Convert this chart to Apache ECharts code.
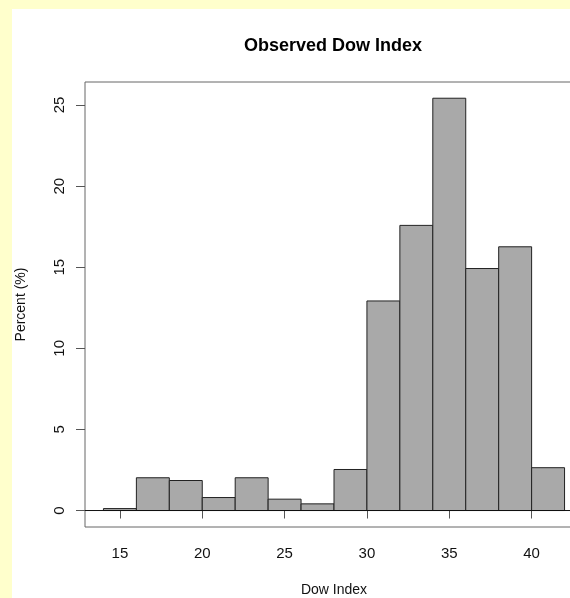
<!DOCTYPE html>
<html>
<head>
<meta charset="utf-8">
<script src="https://cdn.jsdelivr.net/npm/echarts@6/dist/echarts.min.js"></script>
<style>
html, body { margin: 0; padding: 0; background: #FFFFCC; }
#chart { width: 570px; height: 598px; }
</style>
</head>
<body>
<div id="chart"></div>
<script>
// Histogram bins (Dow Index) and heights (Percent)
const binStarts = [14, 16, 18, 20, 22, 24, 26, 28, 30, 32, 34, 36, 38, 40];
const binEnds   = [16, 18, 20, 22, 24, 26, 28, 30, 32, 34, 36, 38, 40, 42];
const percents  = [0.12, 2.02, 1.85, 0.80, 2.02, 0.70, 0.41, 2.53, 12.92, 17.58, 25.42, 14.92, 16.26, 2.64];
const xTicks = [15, 20, 25, 30, 35, 40];
const yTicks = [0, 5, 10, 15, 20, 25];
const xRange = [12.88, 43.12];
const yRange = [-1.016, 26.42];

const font = '"Liberation Sans", Arial, sans-serif';
const histData = binStarts.map((s, i) => [s, binEnds[i], percents[i]]);

const chart = echarts.init(document.getElementById('chart'), null, { renderer: 'canvas' });
chart.setOption({
  backgroundColor: '#FFFFCC',
  animation: false,
  graphic: [{
    type: 'rect', z: -100, silent: true,
    shape: { x: 12, y: 9, width: 600, height: 600 },
    style: { fill: '#FFFFFF' }
  }],
  title: {
    text: 'Observed Dow Index',
    left: 333, top: 37, textAlign: 'center', padding: 0,
    textStyle: { fontFamily: font, fontSize: 18, fontWeight: 'bold', color: '#000' }
  },
  grid: {
    left: 85, top: 82, width: 498, height: 445,
    outerBoundsMode: 'none', containLabel: false,
    show: true, borderColor: '#666', borderWidth: 1, backgroundColor: 'transparent'
  },
  xAxis: {
    type: 'value', min: xRange[0], max: xRange[1],
    name: 'Dow Index', nameLocation: 'middle', nameGap: 56,
    nameTextStyle: { fontFamily: font, fontSize: 14, color: '#111' },
    axisLine: { show: false },
    splitLine: { show: false },
    axisTick: { show: true, length: 8, customValues: xTicks, lineStyle: { color: '#555' } },
    axisLabel: { customValues: xTicks, margin: 19, fontFamily: font, fontSize: 15, color: '#111', formatter: v => String(v) }
  },
  yAxis: {
    type: 'value', min: yRange[0], max: yRange[1],
    name: 'Percent (%)', nameLocation: 'middle', nameGap: 57, nameRotate: 90,
    nameTextStyle: { fontFamily: font, fontSize: 14, color: '#111' },
    axisLine: { show: false },
    splitLine: { show: false },
    axisTick: { show: true, length: 9, customValues: yTicks, lineStyle: { color: '#555' } },
    axisLabel: { customValues: yTicks, rotate: 90, margin: 18, fontFamily: font, fontSize: 15, color: '#111', formatter: v => String(v) }
  },
  series: [
    {
      type: 'custom',
      data: histData,
      encode: { x: [0, 1], y: 2 },
      renderItem: function (params, api) {
        const p0 = api.coord([api.value(0), api.value(2)]);
        const p1 = api.coord([api.value(1), 0]);
        return {
          type: 'rect',
          shape: { x: p0[0], y: p0[1], width: p1[0] - p0[0], height: p1[1] - p0[1] },
          style: { fill: '#A9A9A9', stroke: '#222', lineWidth: 1 }
        };
      },
      z: 2
    },
    {
      type: 'line',
      data: [[xRange[0], 0], [xRange[1], 0]],
      symbol: 'none',
      silent: true,
      lineStyle: { color: '#111', width: 1 },
      z: 3
    }
  ]
});
</script>
</body>
</html>
